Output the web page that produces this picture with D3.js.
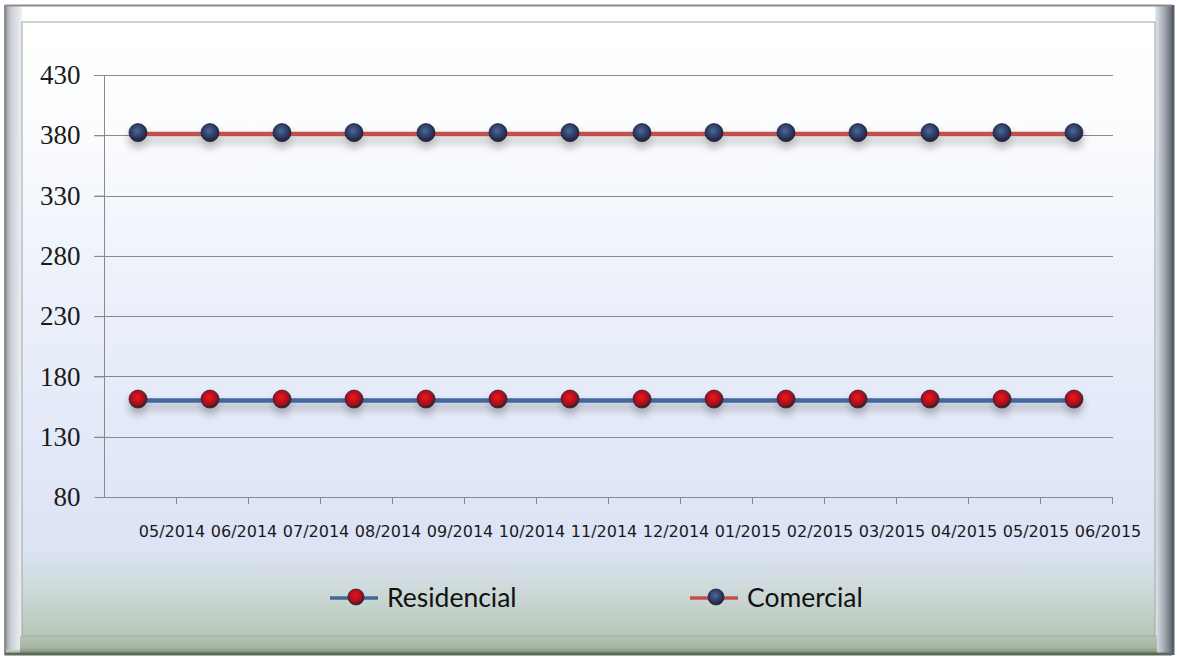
<!DOCTYPE html>
<html><head><meta charset="utf-8">
<script src="https://cdn.jsdelivr.net/npm/d3@7"></script>
<style>html,body{margin:0;padding:0;background:#fff;}svg{display:block;}</style>
</head><body>
<script>
const months = ["05/2014","06/2014","07/2014","08/2014","09/2014","10/2014","11/2014","12/2014","01/2015","02/2015","03/2015","04/2015","05/2015","06/2015"];
const residencial = [160,160,160,160,160,160,160,160,160,160,160,160,160,160];
const comercial = [381,381,381,381,381,381,381,381,381,381,381,381,381,381];
const yTicks = [80,130,180,230,280,330,380,430];
const seriesNames = ["Residencial","Comercial"];

const W = 1177, H = 662;
const svg = d3.select("body").append("svg").attr("width", W).attr("height", H);
const defs = svg.append("defs");

const bg = defs.append("linearGradient").attr("id","bg").attr("x1",0).attr("y1",0).attr("x2",0).attr("y2",1);
[[0,"#ffffff"],[0.15,"#fcfdfe"],[0.45,"#ebf0fa"],[0.75,"#e0e7f7"],[0.86,"#dbe3f4"],[0.92,"#cfdadc"],[1,"#b6c7b6"]].forEach(s=>bg.append("stop").attr("offset",s[0]).attr("stop-color",s[1]));
const lb = defs.append("linearGradient").attr("id","lbev").attr("x1",0).attr("y1",0).attr("x2",1).attr("y2",0);
[[0,"#8a8f98"],[0.3,"#c8ccd2"],[1,"#eef1f6"]].forEach(s=>lb.append("stop").attr("offset",s[0]).attr("stop-color",s[1]));
const rb = defs.append("linearGradient").attr("id","rbev").attr("x1",0).attr("y1",0).attr("x2",1).attr("y2",0);
[[0,"#e4e8ee"],[0.5,"#a8aeb6"],[1,"#646a72"]].forEach(s=>rb.append("stop").attr("offset",s[0]).attr("stop-color",s[1]));
const bb = defs.append("linearGradient").attr("id","bbev").attr("x1",0).attr("y1",0).attr("x2",0).attr("y2",1);
[[0,"#b4c5b2"],[0.7,"#a4b6a2"],[1,"#7d8e7b"]].forEach(s=>bb.append("stop").attr("offset",s[0]).attr("stop-color",s[1]));

const sh = defs.append("filter").attr("id","shadow").attr("x","-10%").attr("y","-200%").attr("width","120%").attr("height","500%");
sh.append("feGaussianBlur").attr("in","SourceAlpha").attr("stdDeviation",4).attr("result","b");
sh.append("feOffset").attr("in","b").attr("dx",0).attr("dy",6).attr("result","o");
sh.append("feComponentTransfer").attr("in","o").attr("result","o2").append("feFuncA").attr("type","linear").attr("slope",0.3);
const mg = sh.append("feMerge"); mg.append("feMergeNode").attr("in","o2"); mg.append("feMergeNode").attr("in","SourceGraphic");

function radial(id, c0, c1, c2){
  const g = defs.append("radialGradient").attr("id",id).attr("cx","45%").attr("cy","40%").attr("r","60%");
  g.append("stop").attr("offset",0).attr("stop-color",c0);
  g.append("stop").attr("offset",0.6).attr("stop-color",c1);
  g.append("stop").attr("offset",1).attr("stop-color",c2);
}
radial("mRes","#e8141c","#b0101a","#3a1a2a");
radial("mCom","#4a6a9a","#2e3c64","#1a2038");

// frame
svg.append("rect").attr("x",0).attr("y",0).attr("width",W).attr("height",H).attr("fill","#ffffff");
svg.append("rect").attr("x",5).attr("y",5).attr("width",1167).attr("height",648).attr("fill","url(#bg)");
svg.append("rect").attr("x",5).attr("y",5).attr("width",17).attr("height",645).attr("fill","url(#lbev)");
svg.append("rect").attr("x",1155).attr("y",5).attr("width",17).attr("height",648).attr("fill","url(#rbev)");
svg.append("rect").attr("x",20).attr("y",636).attr("width",1137).attr("height",17).attr("fill","url(#bbev)");
svg.append("rect").attr("x",22).attr("y",22).attr("width",1133).attr("height",614).attr("fill","url(#bg)").attr("stroke","#9aa8a4").attr("stroke-width",1);
svg.append("line").attr("x1",5).attr("x2",1172).attr("y1",5.5).attr("y2",5.5).attr("stroke","#8c8c8c").attr("stroke-width",2);
svg.append("line").attr("x1",5).attr("x2",5).attr("y1",5).attr("y2",655).attr("stroke","#8c8c8c").attr("stroke-width",2);
svg.append("line").attr("x1",5).attr("x2",1172).attr("y1",654).attr("y2",654).attr("stroke","#5e6b5c").attr("stroke-width",3);
svg.append("line").attr("x1",1173).attr("x2",1173).attr("y1",5).attr("y2",655).attr("stroke","#5a6068").attr("stroke-width",3);

// scales
const x = d3.scaleBand().domain(months).range([104,1112]).padding(0);
const y = d3.scaleLinear().domain([80,430]).range([497,75]);
const cx = d => x(d) + x.bandwidth()/2 - 2;

// gridlines
svg.append("g").selectAll("line").data(yTicks.slice(1)).join("line")
  .attr("x1",94).attr("x2",1113).attr("y1",d=>Math.round(y(d))+0.5).attr("y2",d=>Math.round(y(d))+0.5)
  .attr("stroke","#8a8a8a").attr("stroke-width",1);

// y axis
const ya = svg.append("g").attr("transform","translate(104.5,0)")
  .call(d3.axisLeft(y).tickValues(yTicks).tickSize(10).tickPadding(14).tickFormat(d3.format("d")));
ya.select(".domain").attr("stroke","#8a8a8a").attr("d","M0,75V497");
ya.selectAll(".tick line").attr("stroke","#8a8a8a");
ya.selectAll(".tick text").attr("font-family","'Liberation Serif', serif").attr("font-size",27).attr("fill","#1a1a1a");

// x axis
const xa = svg.append("g").attr("transform","translate(0,497.5)")
  .call(d3.axisBottom(x).tickSize(0).tickFormat(""));
xa.select(".domain").attr("stroke","#8a8a8a").attr("d","M104,0H1113");
svg.append("g").selectAll("line").data(months).join("line")
  .attr("x1",d=>Math.round(x(d)+x.bandwidth())+0.5).attr("x2",d=>Math.round(x(d)+x.bandwidth())+0.5)
  .attr("y1",497).attr("y2",504).attr("stroke","#8a8a8a");
svg.append("g").selectAll("text").data(months).join("text")
  .attr("x",d=>x(d)+x.bandwidth()-4).attr("y",537).attr("text-anchor","middle")
  .attr("font-family","'DejaVu Sans', sans-serif").attr("font-size",16).attr("fill","#1a1a1a")
  .text(d=>d);

// series
const line = d3.line().x((d,i)=>cx(months[i])).y(d=>y(d));
function drawSeries(vals, color, grad){
  const g = svg.append("g").attr("filter","url(#shadow)");
  g.append("path").attr("d",line(vals)).attr("fill","none").attr("stroke",color).attr("stroke-width",4.5);
  g.selectAll("circle").data(vals).join("circle")
    .attr("cx",(d,i)=>cx(months[i])).attr("cy",d=>y(d)-1.5).attr("r",9)
    .attr("fill","url(#"+grad+")").attr("stroke","#2a2430").attr("stroke-width",0.8);
}
drawSeries(residencial,"#41679a","mRes");
drawSeries(comercial,"#c0504d","mCom");

// legend
const legend = [
  {name:seriesNames[0], color:"#41679a", grad:"mRes", x:330},
  {name:seriesNames[1], color:"#c0504d", grad:"mCom", x:690}
];
const lg = svg.append("g").selectAll("g").data(legend).join("g").attr("transform",d=>`translate(${d.x},598)`);
lg.append("line").attr("x1",0).attr("x2",48).attr("y1",0).attr("y2",0).attr("stroke",d=>d.color).attr("stroke-width",3.5);
lg.append("circle").attr("cx",26).attr("cy",-1).attr("r",8).attr("fill",d=>"url(#"+d.grad+")").attr("stroke","#2a2430").attr("stroke-width",0.8);
lg.append("text").attr("x",57).attr("y",9).attr("font-family","Lato, sans-serif").attr("font-size",26.5).attr("fill","#111")
  .text(d=>d.name);
</script>
</body></html>
